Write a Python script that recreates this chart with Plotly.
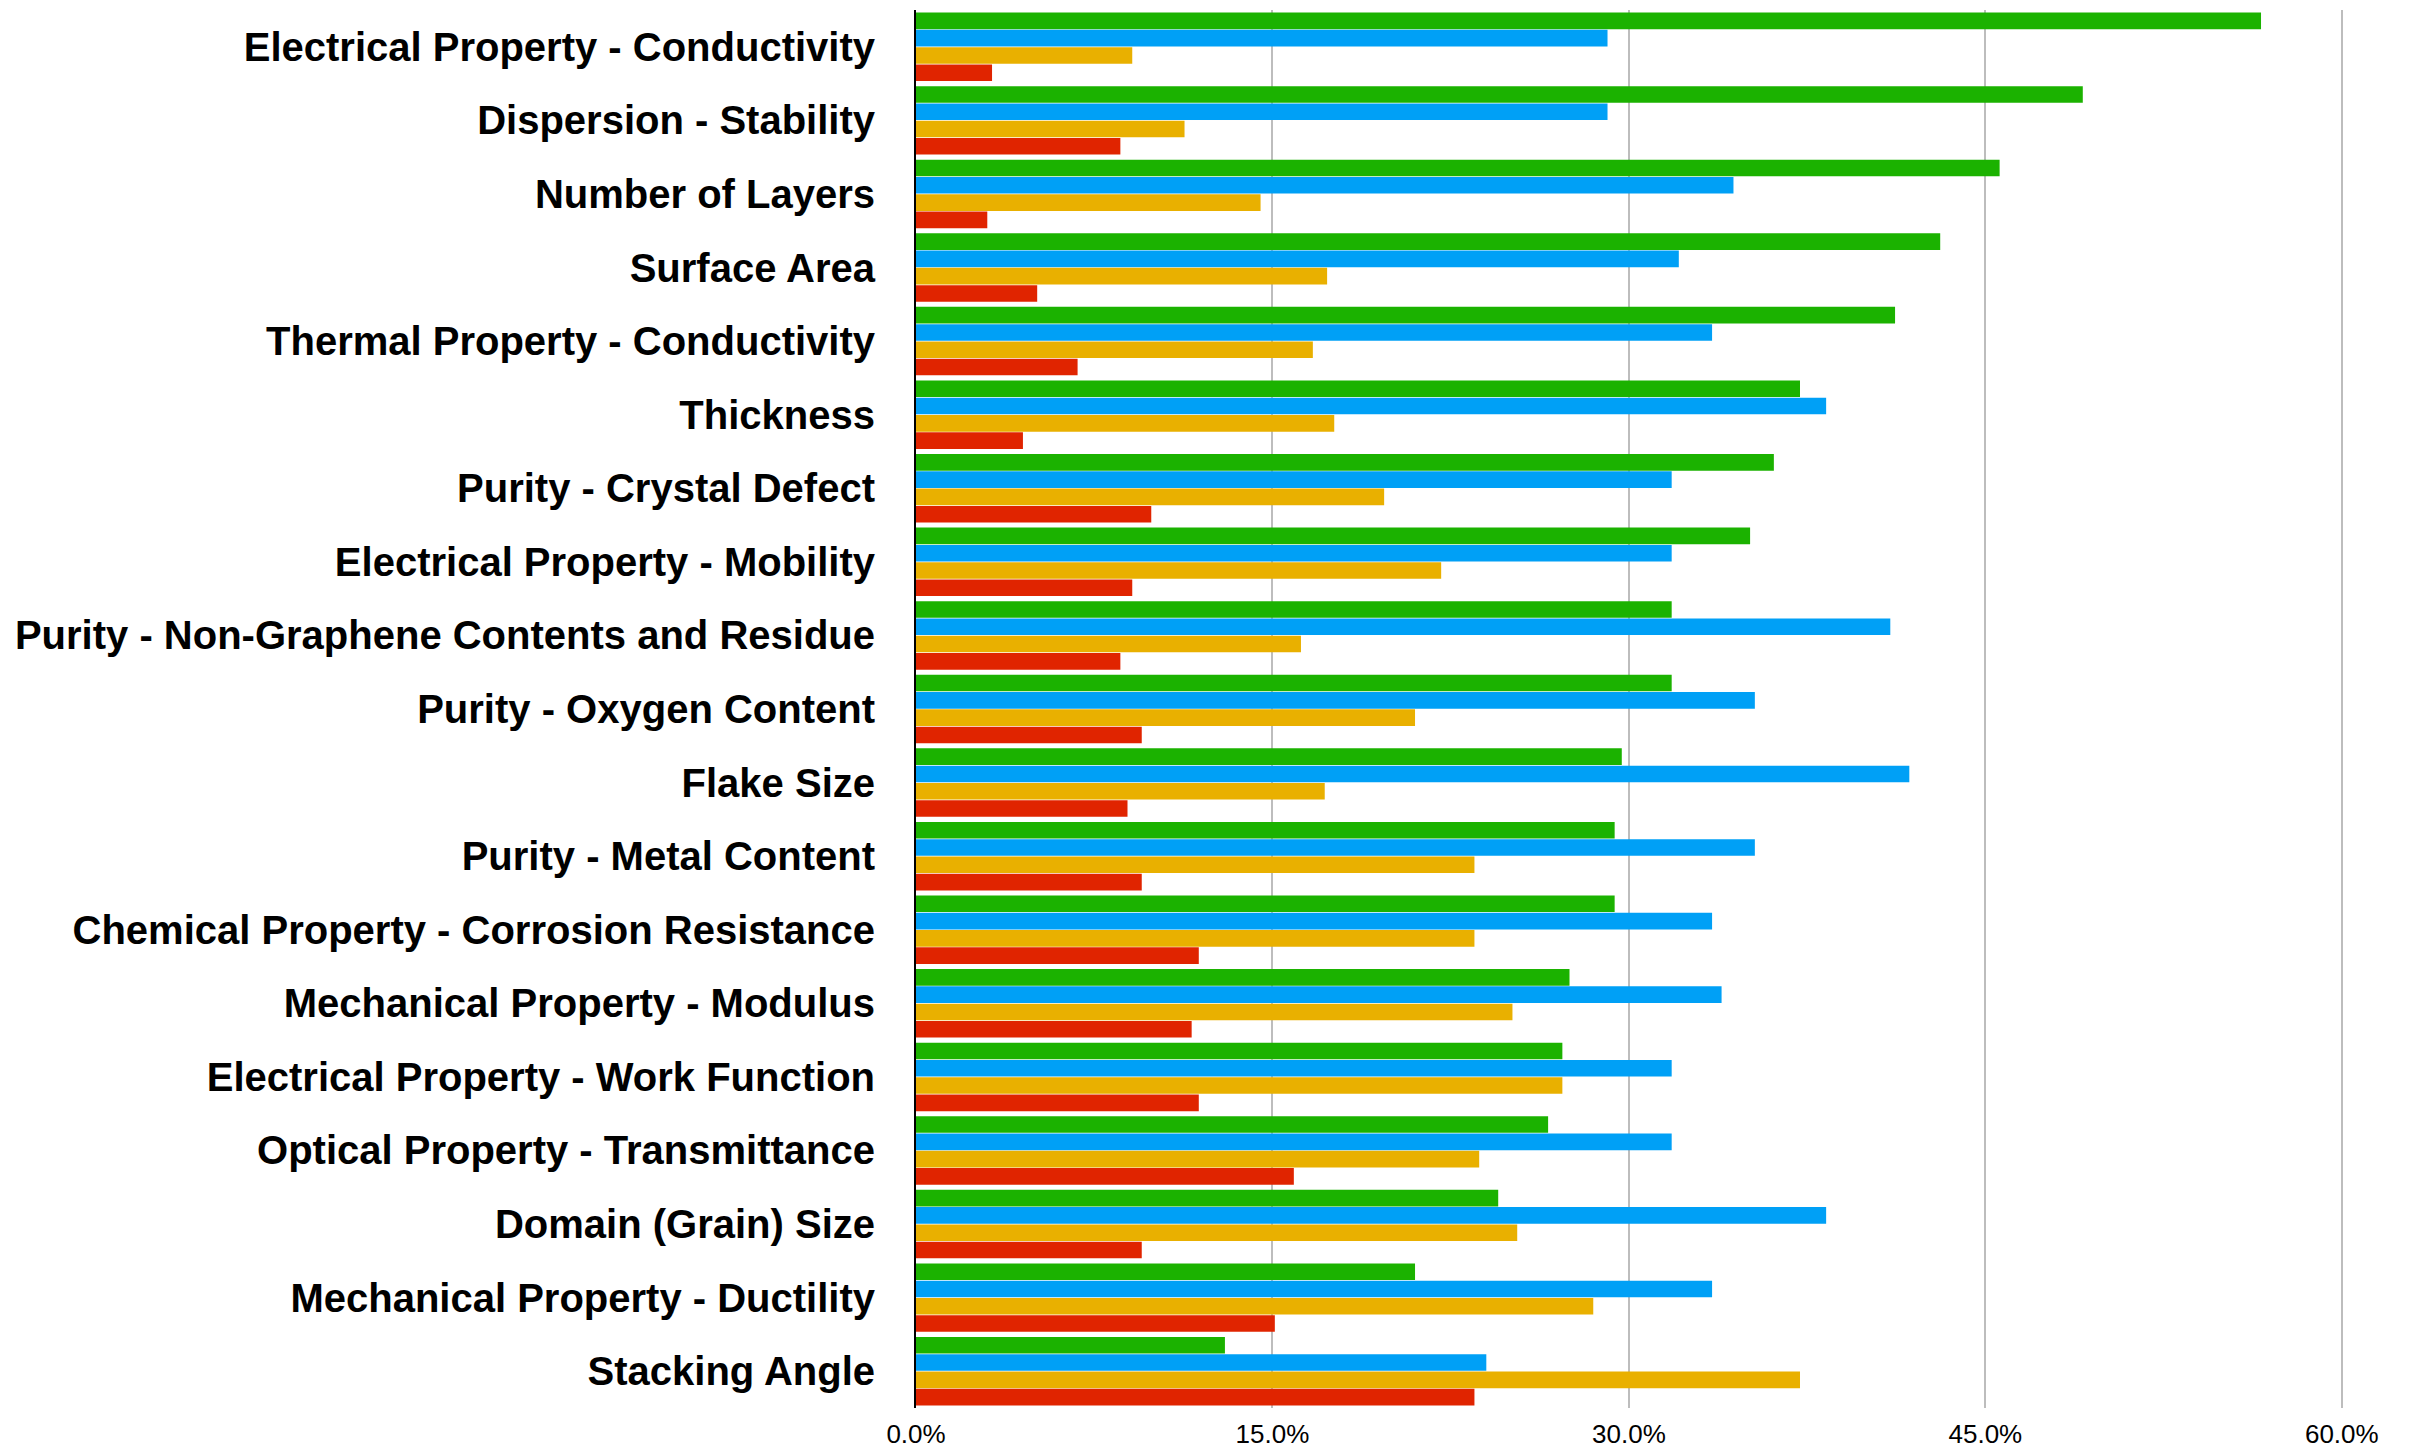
import plotly.graph_objects as go

categories = [
    "Electrical Property - Conductivity",
    "Dispersion - Stability",
    "Number of Layers",
    "Surface Area",
    "Thermal Property - Conductivity",
    "Thickness",
    "Purity - Crystal Defect",
    "Electrical Property - Mobility",
    "Purity - Non-Graphene Contents and Residue",
    "Purity - Oxygen Content",
    "Flake Size",
    "Purity - Metal Content",
    "Chemical Property - Corrosion Resistance",
    "Mechanical Property - Modulus",
    "Electrical Property - Work Function",
    "Optical Property - Transmittance",
    "Domain (Grain) Size",
    "Mechanical Property - Ductility",
    "Stacking Angle",
]

green_vals = [56.6, 49.1, 45.6, 43.1, 41.2, 37.2, 36.1, 35.1, 31.8, 31.8,
              29.7, 29.4, 29.4, 27.5, 27.2, 26.6, 24.5, 21.0, 13.0]
blue_vals = [29.1, 29.1, 34.4, 32.1, 33.5, 38.3, 31.8, 31.8, 41.0, 35.3,
             41.8, 35.3, 33.5, 33.9, 31.8, 31.8, 38.3, 33.5, 24.0]
orange_vals = [9.1, 11.3, 14.5, 17.3, 16.7, 17.6, 19.7, 22.1, 16.2, 21.0,
               17.2, 23.5, 23.5, 25.1, 27.2, 23.7, 25.3, 28.5, 37.2]
red_vals = [3.2, 8.6, 3.0, 5.1, 6.8, 4.5, 9.9, 9.1, 8.6, 9.5,
            8.9, 9.5, 11.9, 11.6, 11.9, 15.9, 9.5, 15.1, 23.5]

tick_vals = [0, 15, 30, 45, 60]
tick_text = ["0.0%", "15.0%", "30.0%", "45.0%", "60.0%"]

series = [
    ("Green", green_vals, "#1bb200"),
    ("Blue", blue_vals, "#00a0f6"),
    ("Orange", orange_vals, "#e9b000"),
    ("Red", red_vals, "#e02400"),
]

fig = go.Figure()
for name, vals, color in series:
    fig.add_trace(go.Bar(
        y=categories, x=vals, name=name, orientation="h",
        marker=dict(color=color, line=dict(width=0)),
    ))

fig.update_layout(
    width=2415, height=1450,
    margin=dict(l=916, r=72, t=10, b=42),
    paper_bgcolor="white", plot_bgcolor="white",
    barmode="group", bargap=0.06, bargroupgap=0.04,
    showlegend=False,
    font=dict(family="Liberation Sans, Arial, sans-serif", color="black"),
)
fig.update_xaxes(
    range=[0, 60.05], tickvals=tick_vals, ticktext=tick_text,
    showgrid=True, gridcolor="#bdbdbd", gridwidth=2,
    zeroline=False, showline=False, ticks="",
    ticklabelstandoff=8, automargin=False,
    tickfont=dict(size=26, family="Liberation Sans, Arial, sans-serif"),
)
fig.update_yaxes(
    autorange="reversed", showgrid=False, zeroline=False,
    showline=True, linecolor="black", linewidth=2, ticks="",
    ticklabelstandoff=31, automargin=False,
    tickfont=dict(size=40, family="Liberation Sans, Arial, sans-serif"),
    tickmode="array", tickvals=categories,
    ticktext=["<b>" + c + "</b>" for c in categories],
)

fig.write_html("out.html")
